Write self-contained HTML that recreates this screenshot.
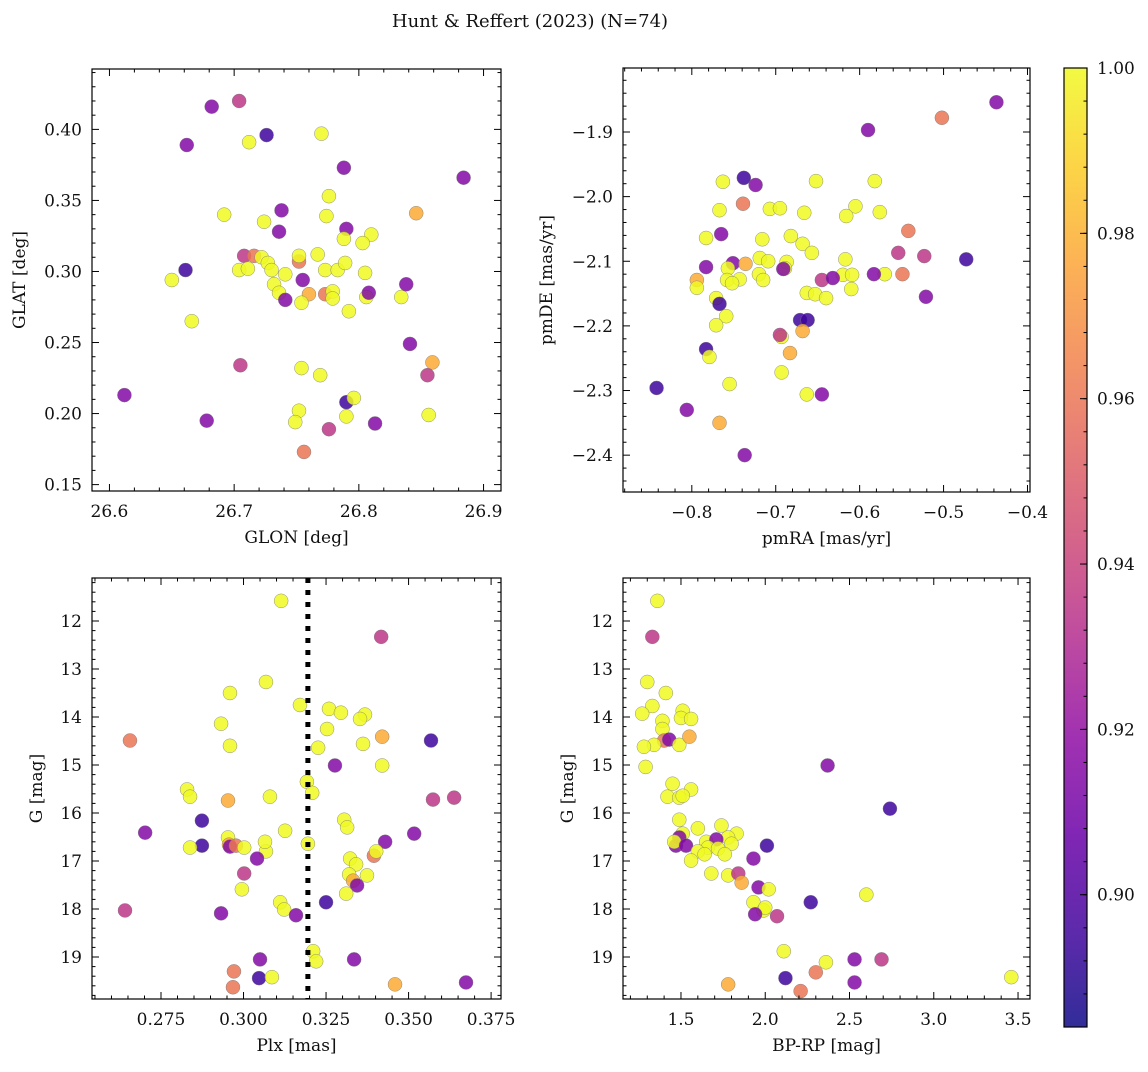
<!DOCTYPE html>
<html><head><meta charset="utf-8"><style>
body{margin:0;background:#fff;}
svg text{font-family:"DejaVu Serif","Liberation Serif",serif;fill:#111;}
</style></head><body>
<svg id="fig" width="1148" height="1067" viewBox="0 0 1148 1067" xmlns="http://www.w3.org/2000/svg">
<rect width="1148" height="1067" fill="#fff"/>
<text x="530" y="27" font-size="18" text-anchor="middle">Hunt &amp; Reffert (2023) (N=74)</text>
</svg>
<script>
// ---------- data ----------
const p1Lon=[26.682,26.704,26.726,26.662,26.770,26.712,26.788,26.884,26.776,26.692,26.738,26.846,26.724,26.774,26.736,26.790,26.788,26.810,26.803,26.661,26.708,26.716,26.722,26.727,26.752,26.767,26.752,26.704,26.711,26.730,26.741,26.732,26.773,26.783,26.789,26.805,26.755,26.736,26.741,26.760,26.773,26.779,26.779,26.754,26.806,26.808,26.834,26.838,26.792,26.666,26.650,26.705,26.754,26.769,26.841,26.859,26.855,26.612,26.678,26.752,26.749,26.790,26.796,26.790,26.813,26.776,26.856,26.756];
const p1Lat=[0.416,0.420,0.396,0.389,0.397,0.391,0.373,0.366,0.353,0.340,0.343,0.341,0.335,0.339,0.328,0.330,0.323,0.326,0.320,0.301,0.311,0.311,0.310,0.306,0.307,0.312,0.311,0.301,0.302,0.301,0.298,0.291,0.301,0.301,0.306,0.299,0.294,0.285,0.280,0.284,0.284,0.286,0.281,0.278,0.282,0.285,0.282,0.291,0.272,0.265,0.294,0.234,0.232,0.227,0.249,0.236,0.227,0.213,0.195,0.202,0.194,0.208,0.211,0.198,0.193,0.189,0.199,0.173];
const p1Prob=[0.915,0.935,0.895,0.915,1,1,0.915,0.915,1,1,0.915,0.978,1,1,0.915,0.915,1,1,1,0.895,0.935,0.96,1,1,0.96,1,1,1,1,1,1,1,1,1,1,1,0.915,1,0.915,0.978,0.96,1,1,1,1,0.915,1,0.915,1,1,1,0.935,1,1,0.915,0.978,0.935,0.915,0.915,1,1,0.895,1,1,0.915,0.935,1,0.96];

const p2RA=[-0.437,-0.502,-0.590,-0.738,-0.724,-0.763,-0.652,-0.582,-0.739,-0.707,-0.695,-0.767,-0.666,-0.605,-0.576,-0.616,-0.783,-0.765,-0.716,-0.682,-0.668,-0.542,-0.751,-0.736,-0.719,-0.709,-0.687,-0.657,-0.617,-0.554,-0.523,-0.473,-0.783,-0.757,-0.720,-0.758,-0.743,-0.794,-0.794,-0.752,-0.715,-0.689,-0.691,-0.620,-0.609,-0.570,-0.583,-0.549,-0.645,-0.632,-0.663,-0.653,-0.640,-0.610,-0.521,-0.771,-0.767,-0.671,-0.662,-0.759,-0.693,-0.668,-0.771,-0.783,-0.779,-0.683,-0.693,-0.755,-0.645,-0.663,-0.842,-0.806,-0.767,-0.737,-0.695];
const p2DE=[-1.854,-1.878,-1.897,-1.971,-1.982,-1.977,-1.976,-1.976,-2.011,-2.019,-2.018,-2.021,-2.025,-2.015,-2.024,-2.030,-2.064,-2.058,-2.066,-2.061,-2.073,-2.053,-2.103,-2.104,-2.095,-2.100,-2.101,-2.087,-2.097,-2.087,-2.092,-2.097,-2.109,-2.111,-2.120,-2.129,-2.128,-2.129,-2.141,-2.134,-2.129,-2.111,-2.112,-2.121,-2.121,-2.120,-2.120,-2.120,-2.129,-2.126,-2.149,-2.151,-2.157,-2.143,-2.155,-2.157,-2.166,-2.191,-2.191,-2.185,-2.217,-2.208,-2.199,-2.236,-2.248,-2.242,-2.272,-2.290,-2.306,-2.306,-2.296,-2.330,-2.350,-2.400,-2.214];
const p2Prob=[0.915,0.96,0.915,0.895,0.915,1,1,1,0.96,1,1,1,1,1,1,1,1,0.915,1,1,1,0.96,0.915,0.978,1,1,1,1,1,0.935,0.935,0.895,0.915,1,1,1,1,0.978,1,1,1,1,0.915,1,1,1,0.915,0.96,0.935,0.915,1,1,1,1,0.915,1,0.895,0.895,0.895,1,1,0.978,1,0.895,1,0.978,1,1,0.915,1,0.895,0.915,0.978,0.915,0.935];

const p3Plx=[0.3114,0.3417,0.3068,0.2959,0.3171,0.3259,0.3295,0.3368,0.3353,0.2932,0.3253,0.3420,0.2656,0.3568,0.2959,0.3226,0.3362,0.3277,0.3420,0.3192,0.2829,0.2838,0.3208,0.3080,0.2953,0.3574,0.3638,0.2874,0.3305,0.3314,0.3126,0.2702,0.3517,0.2953,0.2956,0.3195,0.3429,0.2874,0.2838,0.2959,0.2977,0.3002,0.3068,0.3065,0.3041,0.3323,0.3341,0.3395,0.3402,0.3002,0.3320,0.3374,0.3332,0.3344,0.2995,0.3311,0.2641,0.3111,0.3250,0.3123,0.3159,0.2932,0.3211,0.3220,0.3050,0.3335,0.2971,0.3047,0.3086,0.2968,0.3459,0.3674];
const p3G=[11.58,12.33,13.27,13.50,13.75,13.83,13.91,13.95,14.04,14.14,14.25,14.41,14.49,14.49,14.60,14.64,14.56,15.01,15.01,15.35,15.51,15.66,15.58,15.66,15.74,15.72,15.68,16.16,16.14,16.30,16.37,16.41,16.43,16.51,16.66,16.64,16.60,16.68,16.72,16.70,16.68,16.72,16.80,16.60,16.95,16.95,17.07,16.89,16.80,17.26,17.28,17.30,17.41,17.51,17.59,17.68,18.03,17.86,17.86,18.01,18.13,18.09,18.88,19.09,19.05,19.05,19.30,19.44,19.42,19.63,19.57,19.53];
const p3Prob=[1,0.935,1,1,1,1,1,1,1,1,1,0.978,0.96,0.895,1,1,1,0.915,1,1,1,1,1,1,0.978,0.935,0.935,0.895,1,1,1,0.915,0.915,1,0.978,1,0.915,0.895,1,0.915,0.96,1,1,1,0.915,1,1,0.96,1,0.935,1,1,0.978,0.915,1,1,0.935,1,0.895,1,0.915,0.915,1,1,0.915,0.915,0.96,0.895,1,0.96,0.978,0.915];
const p3Cut=[0.3195];

const p4BR=[1.36,1.33,1.30,1.33,1.41,1.51,1.50,1.56,1.27,1.39,1.39,1.40,1.43,1.49,1.34,1.28,1.55,2.37,1.29,1.45,1.42,1.49,1.56,1.51,2.74,1.49,1.60,1.74,1.83,1.78,1.51,1.49,1.47,1.46,1.53,1.65,1.71,1.80,1.66,1.72,2.01,1.60,1.76,1.64,1.56,1.93,1.68,1.78,1.84,1.86,2.60,1.96,2.02,1.93,2.27,1.99,2.00,1.94,2.07,2.11,2.36,2.53,2.69,2.30,2.12,3.46,1.78,2.21,2.53];
const p4G=[11.58,12.33,13.27,13.77,13.50,13.87,14.02,14.04,13.93,14.08,14.25,14.49,14.47,14.58,14.58,14.62,14.41,15.01,15.04,15.39,15.66,15.68,15.51,15.64,15.91,16.14,16.32,16.26,16.43,16.51,16.43,16.51,16.68,16.60,16.68,16.60,16.55,16.64,16.72,16.74,16.68,16.80,16.86,16.86,16.99,16.95,17.26,17.30,17.26,17.45,17.70,17.55,17.59,17.86,17.86,18.03,17.97,18.11,18.15,18.88,19.11,19.05,19.05,19.32,19.44,19.42,19.57,19.71,19.53];
const p4Prob=[1,0.935,1,1,1,1,1,1,1,1,1,0.96,0.915,1,1,1,0.978,0.915,1,1,1,1,1,1,0.895,1,1,1,1,1,1,0.915,0.915,1,0.915,1,0.915,1,1,1,0.895,1,1,1,1,0.915,1,1,0.935,0.978,1,0.915,1,1,0.895,1,1,0.915,0.935,1,1,0.915,0.935,0.96,0.895,1,0.978,0.96,0.915];

const cbTicks=[0.90,0.92,0.94,0.96,0.98,1.00];
const cMin=0.884, cMax=1.0;

// ---------- helpers ----------
const NS='http://www.w3.org/2000/svg';
const svg=document.getElementById('fig');
function mk(tag,attrs,parent){const e=document.createElementNS(NS,tag);for(const k in attrs)e.setAttribute(k,attrs[k]);(parent||svg).appendChild(e);return e;}
const plasma=[[13,8,135],[65,4,157],[106,0,168],[143,13,164],[177,42,144],[204,71,120],[225,100,98],[242,132,75],[252,166,54],[252,206,37],[240,249,33]];
function cmap(v){let t=(v-cMin)/(cMax-cMin);t=Math.max(0,Math.min(1,t))*10;const i=Math.min(9,Math.floor(t)),f=t-i;const a=plasma[i],b=plasma[i+1];return 'rgb('+a.map((c,k)=>Math.round(c+(b[k]-c)*f)).join(',')+')';}
function fmt(v,d){return (v<0?'\u2212':'')+Math.abs(v).toFixed(d);}

function panel(o){
  const g=mk('g',{});
  
  
  const sx=v=>o.x0+(v-o.xmin)/(o.xmax-o.xmin)*(o.x1-o.x0);
  const sy=o.yinv?(v=>o.y0+(v-o.ymin)/(o.ymax-o.ymin)*(o.y1-o.y0)):(v=>o.y1-(v-o.ymin)/(o.ymax-o.ymin)*(o.y1-o.y0));
  const pg=mk('g',{},g);
  for(let i=0;i<o.xs.length;i++){
    const c=mk('circle',{cx:sx(o.xs[i]),cy:sy(o.ys[i]),r:7,fill:cmap(o.c[i]),'fill-opacity':0.85,stroke:'#777','stroke-width':0.5,'stroke-opacity':0.8},pg);
    
    
  }
  if(o.vline){
    const l=mk('line',{x1:sx(o.vline),x2:sx(o.vline),y1:o.y0,y2:o.y1,stroke:'#000','stroke-width':5,'stroke-dasharray':'5,7'},g);
    
    
  }
  const tg=mk('g',{stroke:'#000','stroke-width':1},g);
  const eps=1e-9;
  for(let v=Math.ceil(o.xmin/o.xmi-eps)*o.xmi;v<=o.xmax+eps;v+=o.xmi){
    const X=sx(v);const maj=Math.abs(v/o.xma-Math.round(v/o.xma))<1e-4;const L=maj?7:3.5;
    mk('line',{x1:X,x2:X,y1:o.y1,y2:o.y1-L},tg);mk('line',{x1:X,x2:X,y1:o.y0,y2:o.y0+L},tg);
    if(maj){const t=mk('text',{x:X,y:o.y1+26,'font-size':17,'text-anchor':'middle',stroke:'none'},g);t.textContent=fmt(Math.round(v/o.xma)*o.xma,o.xd);
      }
  }
  for(let v=Math.ceil(o.ymin/o.ymi-eps)*o.ymi;v<=o.ymax+eps;v+=o.ymi){
    const Y=sy(v);const maj=Math.abs(v/o.yma-Math.round(v/o.yma))<1e-4;const L=maj?7:3.5;
    mk('line',{x1:o.x0,x2:o.x0+L,y1:Y,y2:Y},tg);mk('line',{x1:o.x1,x2:o.x1-L,y1:Y,y2:Y},tg);
    if(maj){const t=mk('text',{x:o.x0-10,y:Y+6,'font-size':17,'text-anchor':'end',stroke:'none'},g);t.textContent=fmt(Math.round(v/o.yma)*o.yma,o.yd);
      }
  }
  mk('rect',{x:o.x0,y:o.y0,width:o.x1-o.x0,height:o.y1-o.y0,fill:'none',stroke:'#000','stroke-width':1.2},g);
  const xl=mk('text',{x:(o.x0+o.x1)/2,y:o.y1+52,'font-size':17,'text-anchor':'middle'},g);xl.textContent=o.xlab;
  
  const yl=mk('text',{x:0,y:0,'font-size':17,'text-anchor':'middle',transform:'translate('+o.ylx+','+((o.y0+o.y1)/2)+') rotate(-90)'},g);yl.textContent=o.ylab;
  
}

panel({name:'glon-glat-panel',x0:92,x1:501,y0:69,y1:491,xmin:26.586,xmax:26.914,ymin:0.1455,ymax:0.4425,xma:0.1,xmi:0.02,yma:0.05,ymi:0.01,xd:1,yd:2,xs:p1Lon,ys:p1Lat,c:p1Prob,xlab:'GLON [deg]',ylab:'GLAT [deg]',ylx:25});
panel({name:'pm-panel',x0:623,x1:1030,y0:68,y1:492,xmin:-0.882,xmax:-0.397,ymin:-2.457,ymax:-1.801,xma:0.1,xmi:0.02,yma:0.1,ymi:0.02,xd:1,yd:1,xs:p2RA,ys:p2DE,c:p2Prob,xlab:'pmRA [mas/yr]',ylab:'pmDE [mas/yr]',ylx:552});
panel({name:'plx-g-panel',x0:92,x1:501,y0:578,y1:999,xmin:0.2541,xmax:0.3780,ymin:11.104,ymax:19.875,yinv:true,xma:0.025,xmi:0.005,yma:1,ymi:0.2,xd:3,yd:0,xs:p3Plx,ys:p3G,c:p3Prob,vline:p3Cut[0],xlab:'Plx [mas]',ylab:'G [mag]',ylx:42});
panel({name:'cmd-panel',x0:623,x1:1030,y0:578,y1:999,xmin:1.156,xmax:3.571,ymin:11.104,ymax:19.875,yinv:true,xma:0.5,xmi:0.1,yma:1,ymi:0.2,xd:1,yd:0,xs:p4BR,ys:p4G,c:p4Prob,xlab:'BP-RP [mag]',ylab:'G [mag]',ylx:573});

(function(){
  const x0=1064,x1=1087,y0=68,y1=1027;
  const g=mk('g',{});
  
  
  const defs=mk('defs',{},g);
  const lg=mk('linearGradient',{id:'cbg',x1:0,y1:1,x2:0,y2:0},defs);
  for(let i=0;i<=20;i++){mk('stop',{offset:(i/20),'stop-color':cmap(cMin+(cMax-cMin)*i/20),'stop-opacity':0.85},lg);}
  mk('rect',{x:x0,y:y0,width:x1-x0,height:y1-y0,fill:'url(#cbg)'},g);
  const sy=v=>y1-(v-cMin)/(cMax-cMin)*(y1-y0);
  for(let v=0.888;v<=cMax+1e-9;v+=0.004){const Y=sy(v);mk('line',{x1:x1,x2:x1-3.5,y1:Y,y2:Y,stroke:'#000'},g);}
  cbTicks.forEach(v=>{const Y=sy(v);mk('line',{x1:x1,x2:x1-7,y1:Y,y2:Y,stroke:'#000'},g);
    const t=mk('text',{x:x1+10,y:Y+6,'font-size':17},g);t.textContent=v.toFixed(2);
    });
  mk('rect',{x:x0,y:y0,width:x1-x0,height:y1-y0,fill:'none',stroke:'#000','stroke-width':1.2},g);
})();
</script>
</body></html>
